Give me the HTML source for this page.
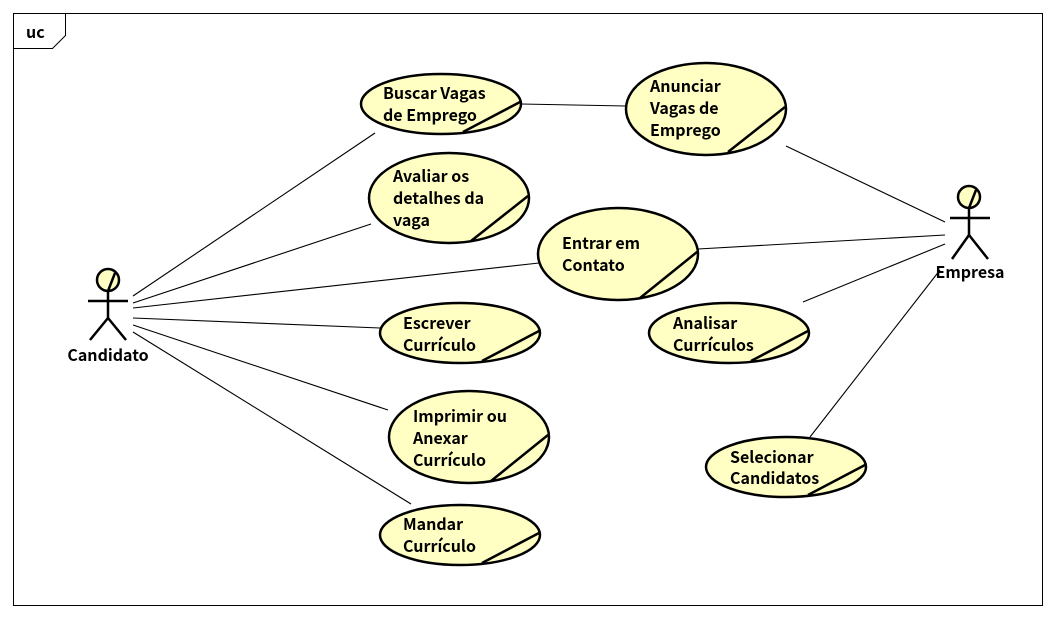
<!DOCTYPE html>
<html><head><meta charset="utf-8"><style>
html,body{margin:0;padding:0;background:#fff;}
svg{display:block;}
text{font-family:"Noto Sans CJK SC","DejaVu Sans","Liberation Sans",sans-serif;font-weight:bold;font-size:16px;fill:#000;}
</style></head><body>
<svg width="1056" height="618" viewBox="0 0 1056 618" xmlns="http://www.w3.org/2000/svg">
<rect x="13.5" y="13.5" width="1029" height="592" fill="#fff" stroke="#000" stroke-width="1"/>
<polyline points="13.5,48.5 52.5,48.5 65.5,35.5 65.5,13.5" fill="none" stroke="#000"/>
<text x="26" y="38">uc</text>
<g stroke="#000" stroke-width="1.1" fill="none">
<line x1="133" y1="296" x2="375" y2="133"/>
<line x1="133" y1="303" x2="371" y2="224"/>
<line x1="133" y1="308" x2="539" y2="263"/>
<line x1="133" y1="318" x2="380" y2="328"/>
<line x1="133" y1="325" x2="388" y2="410"/>
<line x1="133" y1="332" x2="411" y2="504"/>
<line x1="521" y1="104" x2="626" y2="106"/>
<line x1="786" y1="146" x2="945" y2="222"/>
<line x1="698" y1="249" x2="945" y2="235"/>
<line x1="803" y1="302" x2="945" y2="244"/>
<line x1="810" y1="437" x2="940" y2="270"/>
</g>
<g fill="#ffffc4" stroke="#000" stroke-width="2.5">
<ellipse cx="441" cy="104" rx="80" ry="30"/>
<ellipse cx="706" cy="109" rx="80" ry="46"/>
<ellipse cx="449" cy="198" rx="80" ry="45"/>
<ellipse cx="618" cy="254" rx="80" ry="46"/>
<ellipse cx="460" cy="333" rx="80" ry="30"/>
<ellipse cx="469" cy="437" rx="80" ry="46"/>
<ellipse cx="460" cy="535" rx="80" ry="30"/>
<ellipse cx="729" cy="333" rx="80" ry="30"/>
<ellipse cx="786" cy="467" rx="80" ry="30"/>
</g>
<g stroke="#000" stroke-width="2.5">
<line x1="520" y1="102" x2="463" y2="132"/>
<line x1="785" y1="107" x2="728" y2="152"/>
<line x1="528" y1="196" x2="471" y2="241"/>
<line x1="697" y1="252" x2="640" y2="298"/>
<line x1="539" y1="331" x2="482" y2="361"/>
<line x1="548" y1="435" x2="491" y2="481"/>
<line x1="539" y1="533" x2="482" y2="563"/>
<line x1="808" y1="331" x2="751" y2="361"/>
<line x1="865" y1="465" x2="808" y2="495"/>
</g>
<text x="383" y="99">Buscar Vagas</text><text x="383" y="121">de Emprego</text>
<text x="650" y="92">Anunciar</text><text x="650" y="114">Vagas de</text><text x="650" y="136">Emprego</text>
<text x="393" y="182">Avaliar os</text><text x="393" y="204">detalhes da</text><text x="393" y="226">vaga</text>
<text x="562" y="249">Entrar em</text><text x="562" y="271">Contato</text>
<text x="403" y="329">Escrever</text><text x="403" y="351">Currículo</text>
<text x="413" y="422">Imprimir ou</text><text x="413" y="444">Anexar</text><text x="413" y="466">Currículo</text>
<text x="403" y="530">Mandar</text><text x="403" y="552">Currículo</text>
<text x="673" y="329">Analisar</text><text x="673" y="351">Currículos</text>
<text x="730" y="463">Selecionar</text><text x="730" y="484">Candidatos</text>
<g stroke="#000" stroke-width="2.5" fill="none">
<circle cx="108" cy="280" r="11" fill="#ffffc4"/>
<line x1="115" y1="273" x2="108" y2="291"/>
<line x1="108" y1="291" x2="108" y2="318"/>
<line x1="88" y1="301" x2="128" y2="301"/>
<line x1="108" y1="318" x2="90" y2="340"/>
<line x1="108" y1="318" x2="126" y2="340"/>
<circle cx="969" cy="197" r="11" fill="#ffffc4"/>
<line x1="976" y1="190" x2="969" y2="208"/>
<line x1="969" y1="208" x2="969" y2="235"/>
<line x1="950" y1="218" x2="990" y2="218"/>
<line x1="969" y1="235" x2="952" y2="259"/>
<line x1="969" y1="235" x2="988" y2="259"/>
</g>
<text x="108" y="361" text-anchor="middle">Candidato</text>
<text x="970" y="278" text-anchor="middle">Empresa</text>
</svg>
</body></html>
